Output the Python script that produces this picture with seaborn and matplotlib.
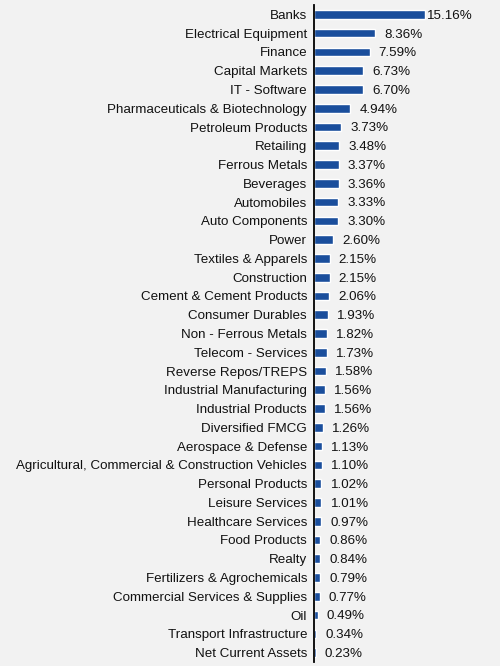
import matplotlib
matplotlib.use("Agg")
import matplotlib.pyplot as plt
import seaborn as sns
import pandas as pd

categories = [
    "Banks", "Electrical Equipment", "Finance", "Capital Markets", "IT - Software",
    "Pharmaceuticals & Biotechnology", "Petroleum Products", "Retailing", "Ferrous Metals",
    "Beverages", "Automobiles", "Auto Components", "Power", "Textiles & Apparels",
    "Construction", "Cement & Cement Products", "Consumer Durables", "Non - Ferrous Metals",
    "Telecom - Services", "Reverse Repos/TREPS", "Industrial Manufacturing",
    "Industrial Products", "Diversified FMCG", "Aerospace & Defense",
    "Agricultural, Commercial & Construction Vehicles", "Personal Products",
    "Leisure Services", "Healthcare Services", "Food Products", "Realty",
    "Fertilizers & Agrochemicals", "Commercial Services & Supplies", "Oil",
    "Transport Infrastructure", "Net Current Assets",
]
values = [
    15.16, 8.36, 7.59, 6.73, 6.70, 4.94, 3.73, 3.48, 3.37, 3.36, 3.33, 3.30, 2.60,
    2.15, 2.15, 2.06, 1.93, 1.82, 1.73, 1.58, 1.56, 1.56, 1.26, 1.13, 1.10, 1.02,
    1.01, 0.97, 0.86, 0.84, 0.79, 0.77, 0.49, 0.34, 0.23,
]

df = pd.DataFrame({"category": categories, "value": values})

sns.set_theme(style="white")
plt.rcParams["font.family"] = ["Liberation Sans", "DejaVu Sans"]

bg = "#f2f2f2"
fig = plt.figure(figsize=(5.0, 6.66), dpi=100, facecolor=bg)
ax = fig.add_axes([0.628, 0.006, 0.372, 0.9865])
ax.set_facecolor(bg)

sns.barplot(data=df, x="value", y="category", ax=ax, color="#1a4e9c",
            saturation=1, width=0.46, orient="h")

for i, v in enumerate(values):
    ax.annotate(f"{v:.2f}%", xy=(v, i), xytext=(34, -1), textcoords="offset points",
                ha="right", va="center", fontsize=9.6, color="#111111")

ax.set_xlim(0, 25.4)
ax.set_ylim(len(categories) - 0.5, -0.5)
ax.set_xlabel("")
ax.set_ylabel("")
ax.set_xticks([])
ax.tick_params(axis="y", length=0, pad=5, labelsize=9.6, labelcolor="#111111")
for s in ["top", "right", "bottom"]:
    ax.spines[s].set_visible(False)
ax.spines["left"].set_color("black")
ax.spines["left"].set_linewidth(1.3)

fig.savefig("out.png", dpi=100, facecolor=bg)
